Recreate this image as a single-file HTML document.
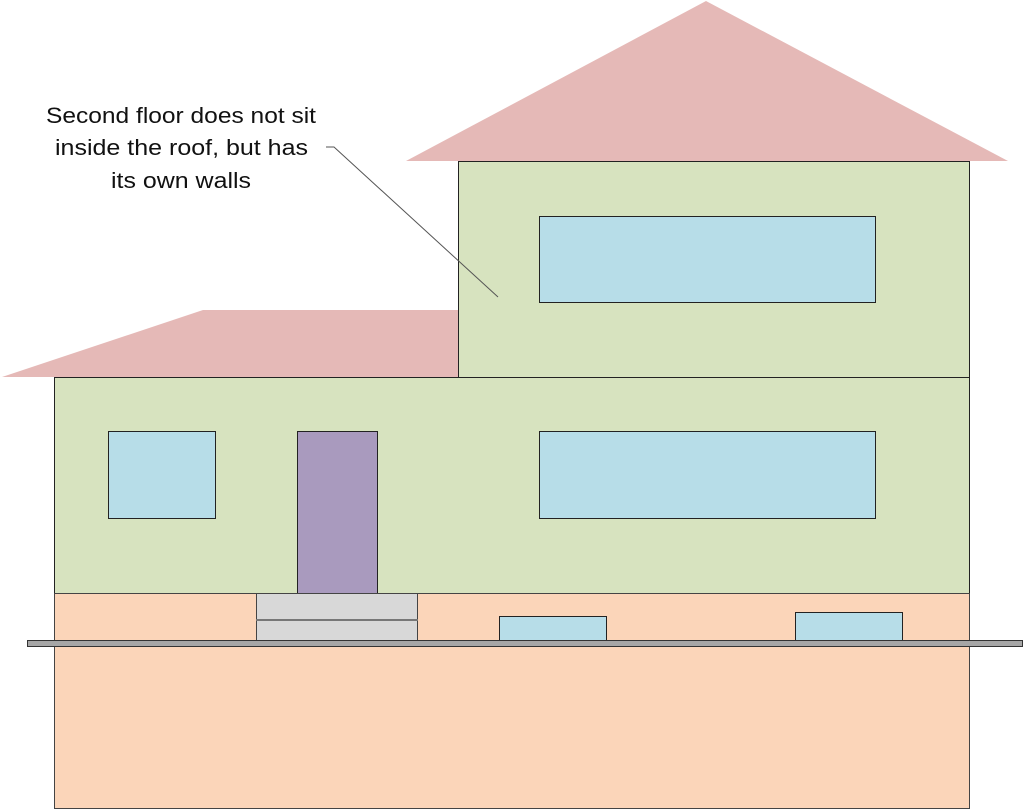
<!DOCTYPE html>
<html><head><style>
html,body{margin:0;padding:0;background:#fff;width:1024px;height:809px;overflow:hidden}
</style></head><body>
<svg width="1024" height="809" viewBox="0 0 1024 809" xmlns="http://www.w3.org/2000/svg">
<polygon points="406,161 706,1 1008,161" fill="#e5b9b7"/>
<polygon points="2,377 203,310 458,310 458,377" fill="#e5b9b7"/>
<rect x="458.5" y="161.5" width="511" height="216" fill="#d7e3bf" stroke="#222" stroke-width="1"/>
<rect x="539.5" y="216.5" width="336" height="86" fill="#b7dde8" stroke="#222" stroke-width="1"/>
<rect x="54.5" y="377.5" width="915" height="216" fill="#d7e3bf" stroke="#222" stroke-width="1"/>
<rect x="108.5" y="431.5" width="107" height="87" fill="#b7dde8" stroke="#222" stroke-width="1"/>
<rect x="297.5" y="431.5" width="80" height="162" fill="#a99abe" stroke="#222" stroke-width="1"/>
<rect x="539.5" y="431.5" width="336" height="87" fill="#b7dde8" stroke="#222" stroke-width="1"/>
<rect x="54.5" y="593.5" width="915" height="215" fill="#fbd5b9" stroke="#444" stroke-width="1"/>
<rect x="256.5" y="593.5" width="161" height="47" fill="#d8d8d8" stroke="#444" stroke-width="1"/>
<line x1="256" y1="620" x2="418" y2="620" stroke="#777" stroke-width="2"/>
<rect x="499.5" y="616.5" width="107" height="24" fill="#b7dde8" stroke="#222" stroke-width="1"/>
<rect x="795.5" y="612.5" width="107" height="28" fill="#b7dde8" stroke="#222" stroke-width="1"/>
<rect x="27.5" y="640.5" width="995" height="6" fill="#a6a6a6" stroke="#333" stroke-width="1"/>
<polyline points="326,147 334,147 498,297" fill="none" stroke="#555" stroke-width="1"/>
<g font-family="Liberation Sans, sans-serif" font-size="22" fill="#111">
<text x="46" y="123" textLength="270" lengthAdjust="spacingAndGlyphs">Second floor does not sit</text>
<text x="55" y="155" textLength="253" lengthAdjust="spacingAndGlyphs">inside the roof, but has</text>
<text x="111" y="188" textLength="140" lengthAdjust="spacingAndGlyphs">its own walls</text>
</g>
</svg>
</body></html>
